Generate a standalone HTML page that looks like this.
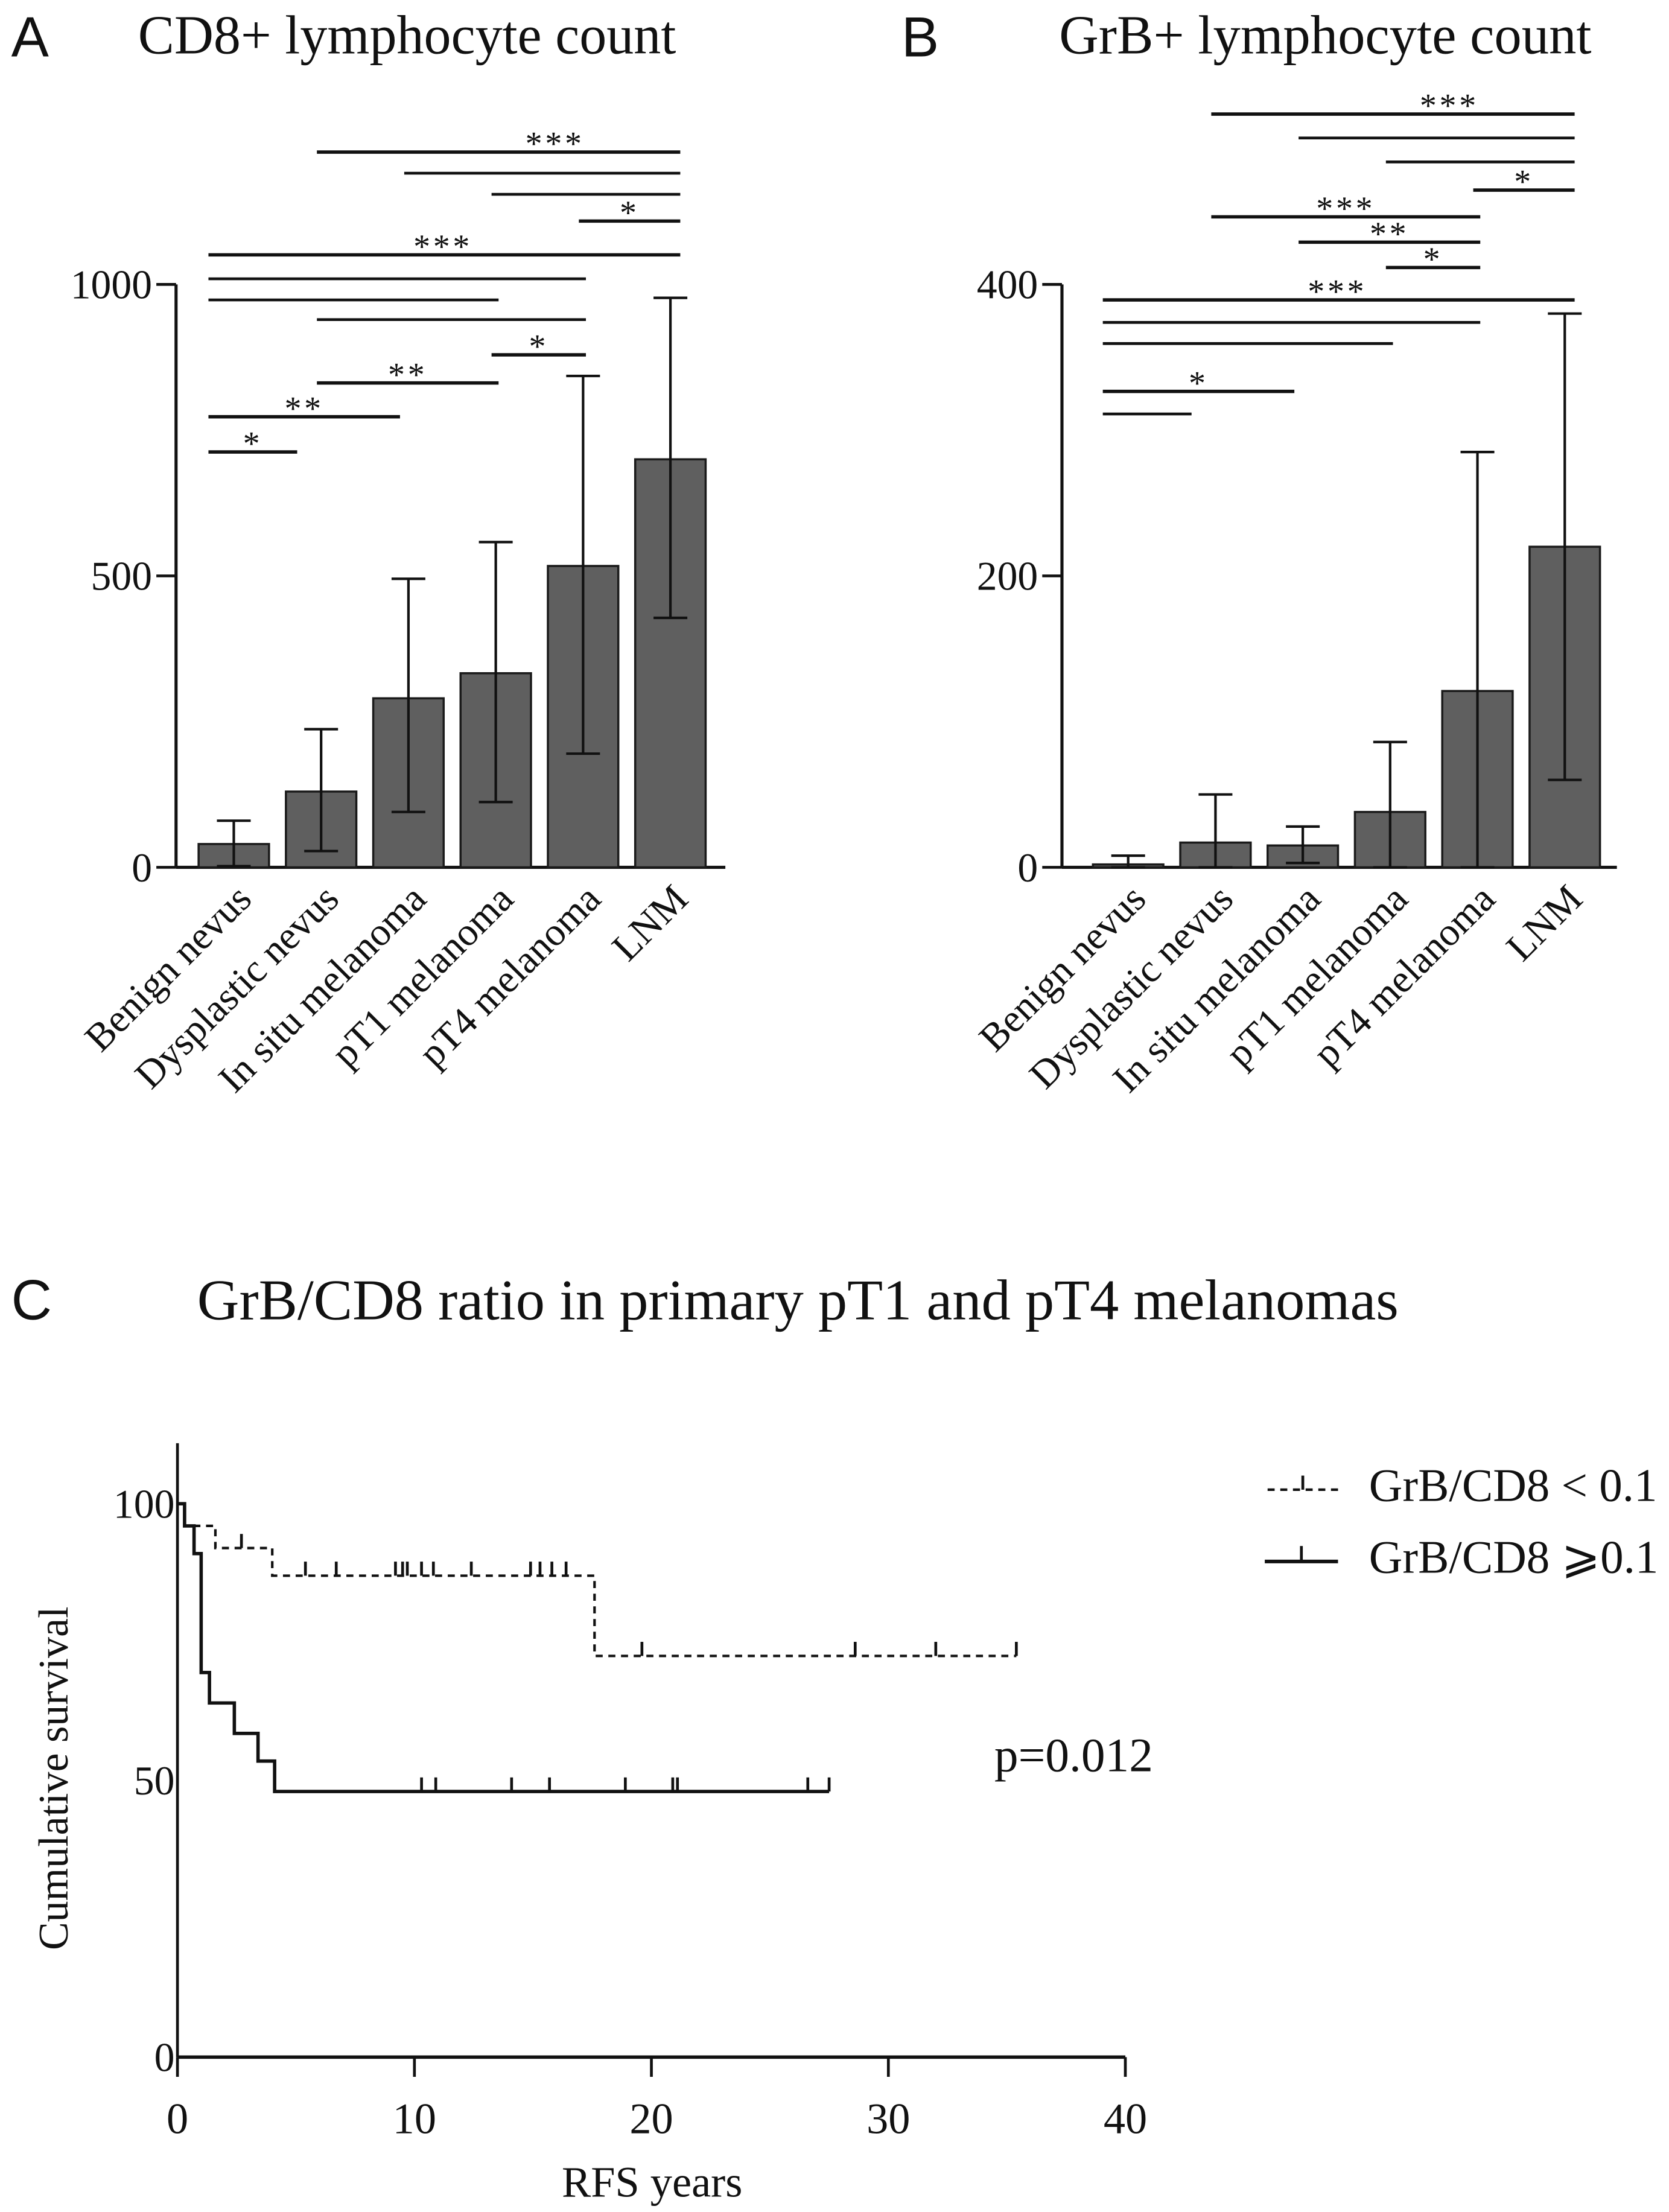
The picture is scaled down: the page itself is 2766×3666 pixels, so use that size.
<!DOCTYPE html>
<html><head><meta charset="utf-8"><style>
html,body{margin:0;padding:0;background:#fff;}
svg{display:block;}
text{font-family:"Liberation Serif",serif;fill:#111;}
.sans{font-family:"Liberation Sans",sans-serif;}
</style></head><body>
<svg id="fig" width="2766" height="3666" viewBox="0 0 1185 1571" preserveAspectRatio="none" xmlns="http://www.w3.org/2000/svg">
<text class="sans" x="8" y="40" font-size="40">A</text>
<text x="98" y="38" font-size="39" textLength="382" lengthAdjust="spacingAndGlyphs">CD8+ lymphocyte count</text>
<text class="sans" x="640" y="40" font-size="40">B</text>
<text x="752" y="38" font-size="39" textLength="378" lengthAdjust="spacingAndGlyphs">GrB+ lymphocyte count</text>
<text class="sans" x="8" y="937" font-size="40">C</text>
<text x="140" y="937" font-size="41" textLength="853" lengthAdjust="spacingAndGlyphs">GrB/CD8 ratio in primary pT1 and pT4 melanomas</text>
<g id="pa"></g>
<g id="pb"></g>
<g id="pc"></g>
</svg>
<script>
const categories = ["Benign nevus","Dysplastic nevus","In situ melanoma","pT1 melanoma","pT4 melanoma","LNM"];
const cd8Means = [40,130,290,333,517,700];
const cd8Upper = [80,237,495,558,843,977];
const cd8Lower = [2,28,95,112,195,428];
const cd8Ticks = [0,500,1000];
const grbMeans = [2,17,15,38,121,220];
const grbUpper = [8,50,28,86,285,380];
const grbLower = [0,0,3,0,0,60];
const grbTicks = [0,200,400];
// significance brackets: [from index, to index, label]
const cd8Sig = [[1,5,"***"],[2,5,""],[3,5,""],[4,5,"*"],[0,5,"***"],[0,4,""],[0,3,""],[1,4,""],[3,4,"*"],[1,3,"**"],[0,2,"**"],[0,1,"*"]];
const cd8SigY = [108,123,138,157,181,198,213,227,252,272,296,321];
const grbSig = [[1,5,"***"],[2,5,""],[3,5,""],[4,5,"*"],[1,4,"***"],[2,4,"**"],[3,4,"*"],[0,5,"***"],[0,4,""],[0,3,""],[0,2,"*"],[0,1,""]];
const grbSigY = [81,98,115,135,154,172,190,213,229,244,278,294];
// survival data (years, %)
const lowSteps = [[0,100],[0.3,96],[1.6,92],[4.0,87],[17.6,72.5]];
const lowEnd = 35.4;
const lowCensor = [2.7,5.4,6.7,9.2,9.5,9.7,10.3,10.8,12.4,14.9,15.3,15.8,16.4,19.6,28.6,32,35.4];
const highSteps = [[0,100],[0.3,96],[0.7,91],[1.0,69.5],[1.35,64],[2.4,58.5],[3.4,53.5],[4.1,48]];
const highEnd = 27.5;
const highCensor = [10.3,10.9,14.1,15.7,18.9,20.9,21.1,26.6,27.5];
const xTicksC = [0,10,20,30,40];
const yTicksC = [0,50,100];

const NS="http://www.w3.org/2000/svg";
function mk(parent,tag,attrs,txt){const e=document.createElementNS(NS,tag);for(const k in attrs)e.setAttribute(k,attrs[k]);if(txt!==undefined)e.textContent=txt;parent.appendChild(e);return e;}

function barPanel(g,axX,x0,xEnd,ymax,means,up,lo,ticks,sig,sigY,pfx){
  const y0=616,yTop=202;
  const ys=v=>y0-(v/ymax)*(y0-yTop);
  const bc=i=>x0+25+i*62;
  let e=mk(g,'line',{x1:axX,y1:yTop,x2:axX,y2:y0,stroke:'#111','stroke-width':2.2});
  
  
  e=mk(g,'line',{x1:axX,y1:y0,x2:xEnd,y2:y0,stroke:'#111','stroke-width':2.2});
  
  
  ticks.forEach(t=>{
    mk(g,'line',{x1:axX-14,y1:ys(t),x2:axX,y2:ys(t),stroke:'#111','stroke-width':2});
    e=mk(g,'text',{x:axX-17,y:ys(t)+10,'font-size':29,'text-anchor':'end'},String(t));
    
    
  });
  means.forEach((m,i)=>{
    const c=bc(i);
    e=mk(g,'rect',{x:c-25,y:ys(m),width:50,height:y0-ys(m),fill:'#5f5f5f',stroke:'#1a1a1a','stroke-width':1.5});
    
    
    mk(g,'line',{x1:c,y1:ys(up[i]),x2:c,y2:ys(lo[i]),stroke:'#111','stroke-width':1.8});
    mk(g,'line',{x1:c-12,y1:ys(up[i]),x2:c+12,y2:ys(up[i]),stroke:'#111','stroke-width':1.8});
    mk(g,'line',{x1:c-12,y1:ys(lo[i]),x2:c+12,y2:ys(lo[i]),stroke:'#111','stroke-width':1.8});
    e=mk(g,'text',{x:0,y:0,'font-size':28,'text-anchor':'end',transform:`translate(${c+14},${640}) rotate(-45)`},categories[i]);
    
    
  });
  const startOff=i=>i===0?-18:-3;
  const endOff=j=>j===1?-17:(j===2?-6:(j===5?7:2));
  sig.forEach((s,k)=>{
    const xa=bc(s[0])+startOff(s[0]),xb=bc(s[1])+endOff(s[1]),y=sigY[k];
    e=mk(g,'line',{x1:xa,y1:y,x2:xb,y2:y,stroke:'#111','stroke-width':s[2]?2.4:2});
    
    
    if(s[2]){
      e=mk(g,'text',{x:(xa+xb)/2+ (s[1]-s[0]>3?(s[0]===0?-1:40):0),y:y+2,'font-size':24,'text-anchor':'middle','letter-spacing':2},s[2]);
      
      
    }
  });
}
barPanel(document.getElementById('pa'),125,141,515,1000,cd8Means,cd8Upper,cd8Lower,cd8Ticks,cd8Sig,cd8SigY,'cd8');
barPanel(document.getElementById('pb'),754,776,1148,400,grbMeans,grbUpper,grbLower,grbTicks,grbSig,grbSigY,'grb');

(function(){
  const g=document.getElementById('pc');
  const X0=126,X40=799,Y0=1461,Y100=1068;
  const xs=v=>X0+v/40*(X40-X0), ys=v=>Y0-v/100*(Y0-Y100);
  let e=mk(g,'line',{x1:X0,y1:1025,x2:X0,y2:Y0,stroke:'#111','stroke-width':2});
  
  
  e=mk(g,'line',{x1:X0,y1:Y0,x2:X40,y2:Y0,stroke:'#111','stroke-width':2.4});
  
  
  xTicksC.forEach(t=>{
    mk(g,'line',{x1:xs(t),y1:Y0,x2:xs(t),y2:Y0+14,stroke:'#111','stroke-width':2});
    e=mk(g,'text',{x:xs(t),y:Y0+54,'font-size':31,'text-anchor':'middle'},String(t));
    
    
  });
  yTicksC.forEach(t=>{
    e=mk(g,'text',{x:X0-2,y:ys(t)+10,'font-size':29,'text-anchor':'end'},String(t));
    
    
  });
  e=mk(g,'text',{x:0,y:0,'font-size':30,'text-anchor':'middle',transform:`translate(48,1263) rotate(-90)`},'Cumulative survival');
  
  
  e=mk(g,'text',{x:463,y:1560,'font-size':31,'text-anchor':'middle'},'RFS years');
  
  
  function curve(steps,end,cens,dash,name){
    let d=`M${xs(steps[0][0])},${ys(steps[0][1])}`;
    for(let i=1;i<steps.length;i++){d+=` H${xs(steps[i][0])} V${ys(steps[i][1])}`;}
    d+=` H${xs(end)}`;
    const attrs={d:d,fill:'none',stroke:'#111','stroke-width':dash?1.8:2.4};
    if(dash)attrs['stroke-dasharray']='5,4';
    let p=mk(g,'path',attrs);
    
    
    const valAt=t=>{let v=steps[0][1];steps.forEach(s=>{if(s[0]<=t)v=s[1];});return v;};
    cens.forEach(t=>{
      const c=mk(g,'line',{x1:xs(t),y1:ys(valAt(t)),x2:xs(t),y2:ys(valAt(t))-10,stroke:'#111','stroke-width':2});
      
      
    });
  }
  curve(lowSteps,lowEnd,lowCensor,true,'curve-grb-cd8-low');
  curve(highSteps,highEnd,highCensor,false,'curve-grb-cd8-high');
  e=mk(g,'text',{x:706,y:1258,'font-size':34},'p=0.012');
  
  
  // legend
  e=mk(g,'line',{x1:900,y1:1058,x2:950,y2:1058,stroke:'#111','stroke-width':1.8,'stroke-dasharray':'5,4'});
  
  
  mk(g,'line',{x1:925,y1:1058,x2:925,y2:1048,stroke:'#111','stroke-width':2});
  e=mk(g,'text',{x:972,y:1066,'font-size':33},'GrB/CD8 < 0.1');
  
  
  e=mk(g,'line',{x1:898,y1:1109,x2:950,y2:1109,stroke:'#111','stroke-width':2.6});
  
  
  mk(g,'line',{x1:924,y1:1109,x2:924,y2:1098,stroke:'#111','stroke-width':2});
  e=mk(g,'text',{x:972,y:1117,'font-size':33},'GrB/CD8 ⩾0.1');
  
  
})();
</script>
</body></html>
